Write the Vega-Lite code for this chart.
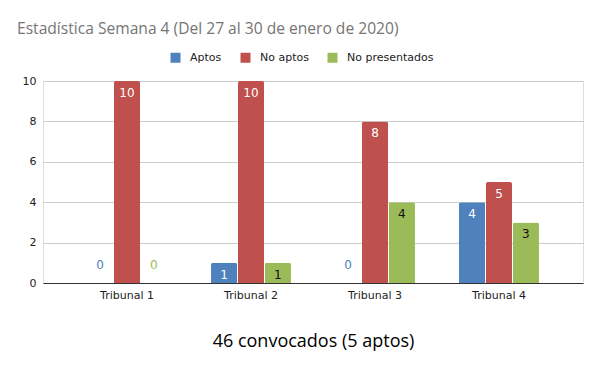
{
  "$schema": "https://vega.github.io/schema/vega-lite/v6.json",
  "autosize": {"type": "none"},
  "width": 540,
  "height": 202,
  "padding": {"left": 43, "top": 81, "right": 17, "bottom": 88},
  "background": "white",
  "title": {
    "text": "Estadística Semana 4 (Del 27 al 30 de enero de 2020)",
    "anchor": "start",
    "frame": "group",
    "dx": -26,
    "offset": 14,
    "font": "Open Sans",
    "fontSize": 15.6,
    "fontWeight": "normal",
    "color": "#757575"
  },
  "data": {
    "values": [
      {"tribunal": "Tribunal 1", "serie": "Aptos", "valor": 0},
      {"tribunal": "Tribunal 1", "serie": "No aptos", "valor": 10},
      {"tribunal": "Tribunal 1", "serie": "No presentados", "valor": 0},
      {"tribunal": "Tribunal 2", "serie": "Aptos", "valor": 1},
      {"tribunal": "Tribunal 2", "serie": "No aptos", "valor": 10},
      {"tribunal": "Tribunal 2", "serie": "No presentados", "valor": 1},
      {"tribunal": "Tribunal 3", "serie": "Aptos", "valor": 0},
      {"tribunal": "Tribunal 3", "serie": "No aptos", "valor": 8},
      {"tribunal": "Tribunal 3", "serie": "No presentados", "valor": 4},
      {"tribunal": "Tribunal 4", "serie": "Aptos", "valor": 4},
      {"tribunal": "Tribunal 4", "serie": "No aptos", "valor": 5},
      {"tribunal": "Tribunal 4", "serie": "No presentados", "valor": 3}
    ]
  },
  "encoding": {
    "x": {
      "field": "tribunal",
      "type": "nominal",
      "scale": {"paddingInner": 0.355, "paddingOuter": 0.355},
      "axis": {
        "title": "46 convocados (5 aptos)",
        "titleFont": "Open Sans",
        "titleFontSize": 18,
        "titleFontWeight": "normal",
        "titleColor": "#000000",
        "titlePadding": 32,
        "labelAngle": 0,
        "labelFont": "DejaVu Sans",
        "labelFontSize": 11,
        "labelColor": "#222222",
        "labelPadding": 6,
        "ticks": false,
        "domainColor": "#333333",
        "domainWidth": 1
      }
    },
    "xOffset": {
      "field": "serie",
      "type": "nominal",
      "sort": ["Aptos", "No aptos", "No presentados"],
      "scale": {"paddingInner": 0.03}
    },
    "y": {
      "field": "valor",
      "type": "quantitative",
      "scale": {"domain": [0, 10]},
      "axis": {
        "title": null,
        "values": [0, 2, 4, 6, 8, 10],
        "labelFont": "DejaVu Sans",
        "labelFontSize": 11,
        "labelColor": "#222222",
        "labelPadding": 7,
        "ticks": false,
        "domain": false,
        "gridColor": "#cccccc"
      }
    }
  },
  "layer": [
    {
      "mark": {"type": "bar", "cornerRadiusTopLeft": 2, "cornerRadiusTopRight": 2},
      "encoding": {
        "color": {
          "field": "serie",
          "type": "nominal",
          "sort": ["Aptos", "No aptos", "No presentados"],
          "scale": {"domain": ["Aptos", "No aptos", "No presentados"], "range": ["#4f81bd", "#c0504d", "#9bbb59"]},
          "legend": {
            "title": null,
            "orient": "none",
            "direction": "horizontal",
            "legendX": 127,
            "legendY": -29,
            "symbolType": "square",
            "symbolSize": 100,
            "symbolStrokeWidth": 0,
            "labelFont": "DejaVu Sans",
            "labelFontSize": 11,
            "labelColor": "#222222",
            "columnPadding": 18,
            "labelOffset": 9
          }
        }
      }
    },
    {
      "transform": [{"filter": "datum.valor > 0"}],
      "mark": {"type": "text", "baseline": "middle", "dy": 12, "font": "DejaVu Sans", "fontSize": 12},
      "encoding": {
        "text": {"field": "valor", "type": "quantitative"},
        "color": {
          "condition": {"test": "datum.serie == 'No presentados'", "value": "#111111"},
          "value": "#ffffff"
        }
      }
    },
    {
      "transform": [{"filter": "datum.valor == 0"}],
      "mark": {"type": "text", "baseline": "middle", "dy": -18, "font": "DejaVu Sans", "fontSize": 12},
      "encoding": {
        "text": {"field": "valor", "type": "quantitative"},
        "color": {"field": "serie", "type": "nominal", "legend": null}
      }
    }
  ]
}
